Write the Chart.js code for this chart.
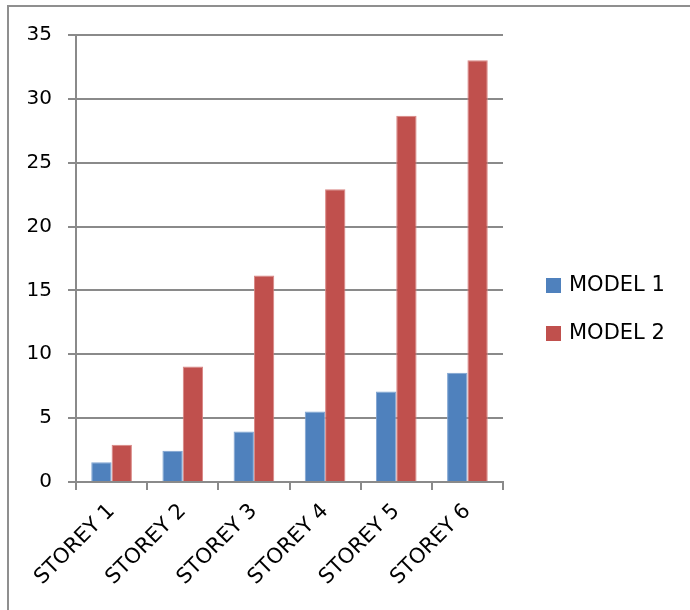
<!DOCTYPE html>
<html>
<head>
<meta charset="utf-8">
<script src="https://cdn.jsdelivr.net/npm/chart.js@4/dist/chart.umd.min.js"></script>
<style>
  html, body { margin: 0; padding: 0; background: #fff; overflow: hidden; }
  #wrap { position: relative; width: 690px; height: 610px; overflow: hidden; }
  #c { display: block; }
</style>
</head>
<body>
<div id="wrap"><canvas id="c" width="690" height="610"></canvas></div>
<script>
// Storey-wise values for the two models
const categories = ["STOREY 1", "STOREY 2", "STOREY 3", "STOREY 4", "STOREY 5", "STOREY 6"];
const model1 = [1.55, 2.45, 3.96, 5.52, 7.09, 8.56];
const model2 = [2.92, 9.05, 16.16, 22.92, 28.67, 33.03];
const seriesNames = ["MODEL 1", "MODEL 2"];
const seriesColors = ["#4F81BD", "#C0504D"];
const seriesEdges = ["#7ea3d1", "#d98583"];
const yTicks = [0, 5, 10, 15, 20, 25, 30, 35];

const FONT = "'DejaVu Sans', sans-serif";
const AXIS_GREY = "#8a8a8a";

// Outer frame (top and left edges) behind the chart
const framePlugin = {
  id: "frame",
  beforeDraw(chart) {
    const ctx = chart.ctx;
    ctx.save();
    ctx.fillStyle = "#8f8f8f";
    ctx.fillRect(7, 5, 2, chart.height - 5);
    ctx.fillRect(7, 5, chart.width - 7, 2);
    ctx.restore();
  }
};

// Legend drawn to the right of the plot area, from the dataset settings
const sideLegend = {
  id: "sideLegend",
  afterDraw(chart) {
    const ctx = chart.ctx;
    const area = chart.chartArea;
    ctx.save();
    ctx.font = "21px " + FONT;
    ctx.textBaseline = "middle";
    chart.data.datasets.forEach((ds, i) => {
      const cy = area.top + 250 + i * 48;
      const x = area.right + 43;
      ctx.fillStyle = ds.backgroundColor;
      ctx.fillRect(x, cy - 7, 15, 15);
      ctx.fillStyle = "#000";
      ctx.fillText(ds.label, x + 23, cy + 1);
    });
    ctx.restore();
  }
};

new Chart(document.getElementById("c"), {
  type: "bar",
  data: {
    labels: categories,
    datasets: [
      { label: seriesNames[0], data: model1, backgroundColor: seriesColors[0],
        borderColor: seriesEdges[0], borderWidth: 1 },
      { label: seriesNames[1], data: model2, backgroundColor: seriesColors[1],
        borderColor: seriesEdges[1], borderWidth: 1 }
    ]
  },
  options: {
    responsive: false,
    animation: false,
    devicePixelRatio: 1,
    layout: { padding: { top: 35, right: 187, bottom: 0, left: 0 } },
    datasets: { bar: { categoryPercentage: 2 / 3.5, barPercentage: 1 } },
    plugins: {
      legend: { display: false },
      tooltip: { enabled: false }
    },
    scales: {
      x: {
        afterFit(s) { s.height = 128; },
        grid: {
          offset: true,
          drawOnChartArea: false,
          drawTicks: true,
          tickLength: 8,
          color: AXIS_GREY,
          lineWidth: 2
        },
        border: { display: true, color: AXIS_GREY, width: 2 },
        ticks: {
          color: "#000",
          font: { family: FONT, size: 21 },
          minRotation: 45,
          maxRotation: 45,
          padding: 9,
          autoSkip: false
        }
      },
      y: {
        min: 0,
        max: 35,
        afterFit(s) { s.width = 76; },
        afterBuildTicks(s) { s.ticks = yTicks.map(v => ({ value: v })); },
        grid: {
          color: AXIS_GREY,
          lineWidth: 2,
          drawTicks: true,
          tickLength: 8
        },
        border: { display: true, color: AXIS_GREY, width: 2 },
        ticks: {
          color: "#000",
          font: { family: FONT, size: 20 },
          padding: 16
        }
      }
    }
  },
  plugins: [framePlugin, sideLegend]
});
</script>
</body>
</html>
